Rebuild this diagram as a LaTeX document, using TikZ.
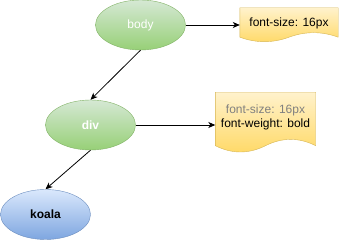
\documentclass[tikz,border=0pt]{standalone}
\usepackage{fontspec}
\setmainfont{Liberation Sans}
\usetikzlibrary{calc,backgrounds,shapes.geometric,arrows.meta}
\definecolor{greentop}{HTML}{D5E8D4}
\definecolor{greenbot}{HTML}{97D077}
\definecolor{greenline}{HTML}{82B366}
\definecolor{bluetop}{HTML}{DAE8FC}
\definecolor{bluebot}{HTML}{7EA6E0}
\definecolor{blueline}{HTML}{6C8EBF}
\definecolor{yellowtop}{HTML}{FFF2CC}
\definecolor{yellowbot}{HTML}{FFD966}
\definecolor{yellowline}{HTML}{D6B656}
\definecolor{fontgray}{HTML}{808080}
\newcommand\docshape[2]{%
  \path[docline] let \p1=(#1.north west), \p2=(#1.south east), \n1={\x2-\x1} in
    (\p1) -- (\x2,\y1) -- (\x2,\y2+#2/2)
    .. controls (\x1+5*\n1/6,\y2+1.1*#2) and (\x1+2*\n1/3,\y2+1.1*#2) .. (\x1+\n1/2,\y2+#2/2)
    .. controls (\x1+\n1/3,\y2-0.1*#2) and (\x1+\n1/6,\y2-0.1*#2) .. (\x1,\y2+#2/2) -- cycle;}
\begin{document}
\begin{tikzpicture}[x=1pt, y=1pt, font=\fontsize{12}{14}\selectfont,
    tag/.style={ellipse, minimum width=90pt, minimum height=50pt, inner sep=0pt},
    greentag/.style={tag, draw=greenline, top color=greentop, bottom color=greenbot, text=white},
    bluetag/.style={tag, draw=blueline, top color=bluetop, bottom color=bluebot, font=\fontsize{12}{14}\selectfont\bfseries},
    docnode/.style={rectangle, inner sep=0pt, align=center},
    docline/.style={draw=yellowline, top color=yellowtop, bottom color=yellowbot},
    link/.style={-{Stealth[length=7pt, width=6pt, inset=2pt]}, line width=0.8pt}]
  \useasboundingbox (0,0) rectangle (341,241);
  \node (body) [greentag] at (140.5,216) {body};
  \node (div) [greentag, font=\fontsize{12}{14}\selectfont\bfseries] at (90.5,116) {div};
  \node (koala) [bluetag] at (45.5,26.5) {koala};
  \node (fs1) [docnode, minimum width=98pt, minimum height=34pt, text height=9pt, text depth=6pt] at (289,216) {font-size: 16px};
  \node (fs2) [docnode, minimum width=100pt, minimum height=60pt, text depth=12pt] at (265.5,118.5) {\textcolor{fontgray}{font-size: 16px}\\font-weight: bold};
  \begin{scope}[on background layer]
    \docshape{fs1}{10}
    \docshape{fs2}{14}
  \end{scope}
  \draw[link] (body.east) -- (fs1.west);
  \draw[link] (body.south) -- (div.north);
  \draw[link] (div.east) -- (div.east -| fs2.west);
  \draw[link] (div.south) -- (koala.north);
\end{tikzpicture}
\end{document}
